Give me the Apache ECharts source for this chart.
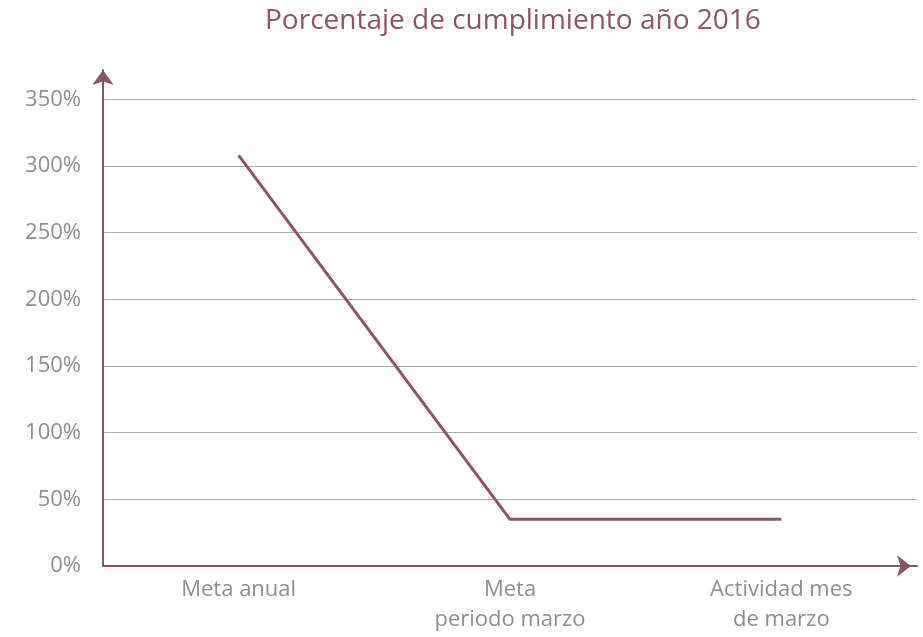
<!DOCTYPE html>
<html>
<head>
<meta charset="utf-8">
<script src="https://cdn.jsdelivr.net/npm/echarts@6/dist/echarts.min.js"></script>
<style>
  html, body { margin: 0; padding: 0; background: #fff; }
  #main { width: 923px; height: 637px; }
</style>
</head>
<body>
<div id="main"></div>
<script>
// categorias del eje x
const categorias = ['Meta anual', 'Meta\nperiodo marzo', 'Actividad mes\nde marzo'];
// porcentaje de cumplimiento
const cumplimiento = [308, 35, 35];
const tituloTexto = 'Porcentaje de cumplimiento año 2016';

const colorLinea = '#8c5468';
const colorTexto = '#8e8e8e';
const fuente = 'Open Sans';

let myChart = echarts.init(document.getElementById('main'));
let option = {
    backgroundColor: '#ffffff',
    title: {
        text: tituloTexto,
        left: 260,
        top: 2,
        textStyle: {
            color: colorLinea,
            fontSize: 28,
            fontWeight: 'normal',
            fontFamily: fuente
        }
    },
    grid: {
        left: 103,
        right: 6,
        top: 70,
        bottom: 71
    },
    xAxis: {
        type: 'category',
        data: categorias,
        boundaryGap: true,
        axisLine: {
            lineStyle: { color: colorLinea, width: 2 },
            symbol: ['none', 'arrow'],
            symbolSize: [16, 14],
            symbolOffset: [0, -6]
        },
        axisTick: { show: false },
        axisLabel: {
            color: colorTexto,
            fontSize: 22,
            lineHeight: 30,
            margin: 9,
            fontFamily: fuente
        }
    },
    yAxis: {
        type: 'value',
        min: 0,
        max: 372,
        interval: 50,
        axisLine: {
            show: true,
            lineStyle: { color: colorLinea, width: 2 },
            symbol: ['none', 'arrow'],
            symbolSize: [16, 15]
        },
        axisTick: { show: false },
        splitLine: {
            showMaxLine: false,
            lineStyle: { color: '#aaaaaa', width: 1 }
        },
        axisLabel: {
            showMaxLabel: false,
            color: colorTexto,
            fontSize: 22,
            margin: 22,
            fontFamily: fuente,
            formatter: '{value}%'
        }
    },
    series: [
        {
            name: 'Cumplimiento',
            type: 'line',
            data: cumplimiento,
            symbol: 'none',
            smooth: false,
            lineStyle: { color: colorLinea, width: 3 }
        }
    ]
};
myChart.setOption(option);
</script>
</body>
</html>
